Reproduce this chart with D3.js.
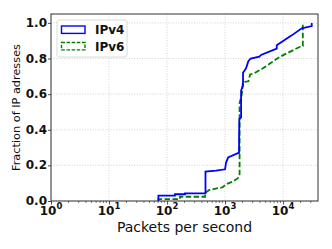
<!DOCTYPE html>
<html>
<head>
<meta charset="utf-8">
<script src="https://cdn.jsdelivr.net/npm/d3@7"></script>
<style>
  body { margin: 0; background: #fff; }
  svg { display: block; font-family: "DejaVu Sans", sans-serif; }
</style>
</head>
<body>
<svg id="chart" width="332" height="249"></svg>
<script>
// CDF of packets per second (pps, cumulative fraction)
const seriesNames = ['IPv4', 'IPv6'];

const ipv4Pps = [71, 71, 137, 137, 204, 204, 460, 460, 700, 1000, 1040, 1130, 1660, 1740, 1760, 1890, 1890, 2040, 2040, 2300, 2520, 2770, 3900, 4170, 7780, 7780, 14100, 21000, 31200, 31200];
const ipv4Frac = [0, 0.03, 0.03, 0.038, 0.038, 0.043, 0.043, 0.165, 0.17, 0.178, 0.216, 0.244, 0.269, 0.27, 0.46, 0.47, 0.62, 0.65, 0.72, 0.745, 0.785, 0.80, 0.81, 0.82, 0.856, 0.875, 0.93, 0.97, 0.982, 1.0];

const ipv6Pps = [71, 71, 167, 167, 452, 452, 534, 910, 1040, 1350, 1660, 1780, 1780, 1950, 2030, 2520, 2700, 3300, 4500, 6200, 8870, 19600, 21900, 21900];
const ipv6Frac = [0, 0.01, 0.01, 0.024, 0.024, 0.045, 0.062, 0.077, 0.094, 0.109, 0.128, 0.15, 0.55, 0.6, 0.667, 0.672, 0.71, 0.72, 0.745, 0.776, 0.81, 0.866, 0.87, 1.0];

const xTicks = [1, 10, 100, 1000, 10000];
const yTicks = [0, 0.2, 0.4, 0.6, 0.8, 1.0];

const width = 332, height = 249;
const margin = { top: 14, right: 14, bottom: 48, left: 51 };

const svg = d3.select('#chart');

const x = d3.scaleLog()
    .domain([1, 40000])
    .range([margin.left, width - margin.right]);

const y = d3.scaleLinear()
    .domain([0, 1.05])
    .range([height - margin.bottom, margin.top]);

// grid
const grid = svg.append('g');
grid.selectAll('.gx')
    .data(xTicks)
    .enter().append('line')
    .attr('x1', d => x(d)).attr('x2', d => x(d))
    .attr('y1', margin.top).attr('y2', height - margin.bottom)
    .attr('stroke', '#c8c8c8').attr('stroke-width', 0.8)
    .attr('stroke-dasharray', '1,1.6');
grid.selectAll('.gy')
    .data(yTicks)
    .enter().append('line')
    .attr('x1', margin.left).attr('x2', width - margin.right)
    .attr('y1', d => y(d)).attr('y2', d => y(d))
    .attr('stroke', '#c8c8c8').attr('stroke-width', 0.8)
    .attr('stroke-dasharray', '1,1.6');

// curves
const line = d3.line()
    .x(d => x(d[0]))
    .y(d => y(d[1]));

const ipv4 = ipv4Pps.map((p, i) => [p, ipv4Frac[i]]);
const ipv6 = ipv6Pps.map((p, i) => [p, ipv6Frac[i]]);

svg.append('path')
    .datum(ipv6)
    .attr('d', line)
    .attr('fill', 'none')
    .attr('stroke', '#008000')
    .attr('stroke-width', 1.8)
    .attr('stroke-dasharray', '5.5,2.4');

svg.append('path')
    .datum(ipv4)
    .attr('d', line)
    .attr('fill', 'none')
    .attr('stroke', '#0000ff')
    .attr('stroke-width', 1.8);

// axes
const xAxis = svg.append('g')
    .attr('transform', `translate(0,${height - margin.bottom})`)
    .call(d3.axisBottom(x).tickValues(xTicks).tickSize(3.5).tickFormat(''));
const minor = [];
for (let e = 0; e < 5; e++) {
    for (let m = 2; m <= 9; m++) {
        const v = m * Math.pow(10, e);
        if (v < 40000) minor.push(v);
    }
}
xAxis.selectAll('.minor')
    .data(minor)
    .enter().append('line')
    .attr('x1', d => x(d)).attr('x2', d => x(d))
    .attr('y1', 0).attr('y2', 2)
    .attr('stroke', '#222').attr('stroke-width', 0.6);

svg.append('g')
    .attr('transform', `translate(${margin.left},0)`)
    .call(d3.axisLeft(y).tickValues(yTicks).tickSize(3).tickFormat(''));

svg.selectAll('.domain').remove();
svg.selectAll('.tick line').attr('stroke', '#222').attr('stroke-width', 0.8);

// frame
svg.append('rect')
    .attr('x', margin.left).attr('y', margin.top)
    .attr('width', width - margin.left - margin.right)
    .attr('height', height - margin.top - margin.bottom)
    .attr('fill', 'none').attr('stroke', '#333').attr('stroke-width', 1);

// y tick labels
svg.selectAll('.ylab')
    .data(yTicks)
    .enter().append('text')
    .attr('x', margin.left - 4)
    .attr('y', d => y(d) + 4.1)
    .attr('text-anchor', 'end')
    .style('font-size', '12px')
    .style('font-weight', 'bold')
    .attr('fill', '#111')
    .text(d => d.toFixed(1));

// x tick labels: 10^n
const xl = svg.selectAll('.xlab')
    .data(xTicks)
    .enter().append('text')
    .attr('x', d => x(d))
    .attr('y', height - margin.bottom + 13.8)
    .attr('text-anchor', 'middle')
    .style('font-size', '12px')
    .style('font-weight', 'bold')
    .attr('fill', '#111');
xl.append('tspan').text('10');
xl.append('tspan')
    .attr('dy', -6.3)
    .style('font-size', '8.5px')
    .text(d => Math.round(Math.log10(d)));

// axis titles
svg.append('text')
    .attr('x', (margin.left + width - margin.right) / 2)
    .attr('y', 232)
    .attr('text-anchor', 'middle')
    .style('font-size', '14px')
    .attr('fill', '#111')
    .text('Packets per second');

svg.append('text')
    .attr('transform', `translate(20,${(margin.top + height - margin.bottom) / 2}) rotate(-90)`)
    .attr('text-anchor', 'middle')
    .style('font-size', '11.3px')
    .attr('fill', '#111')
    .text('Fraction of IP adresses');

// legend
const legend = svg.append('g').attr('transform', 'translate(57,20)');
legend.append('rect')
    .attr('width', 70).attr('height', 37)
    .attr('rx', 2)
    .attr('fill', '#fff').attr('fill-opacity', 0.8)
    .attr('stroke', '#d0d0d0').attr('stroke-width', 0.8);

const legendColors = ['#0000ff', '#008000'];
const legendDash = [null, '3.5,1.6'];
const item = legend.selectAll('.item')
    .data(seriesNames)
    .enter().append('g')
    .attr('transform', (d, i) => `translate(0,${6 + i * 16.5})`);
item.append('rect')
    .attr('x', 4.5).attr('y', 0)
    .attr('width', 23.5).attr('height', 7.4)
    .attr('fill', 'none')
    .attr('stroke', (d, i) => legendColors[i])
    .attr('stroke-width', 1.4)
    .attr('stroke-dasharray', (d, i) => legendDash[i]);
item.append('text')
    .attr('x', 38).attr('y', 8)
    .style('font-size', '12px')
    .style('font-weight', 'bold')
    .attr('fill', '#111')
    .text(d => d);
</script>
</body>
</html>
